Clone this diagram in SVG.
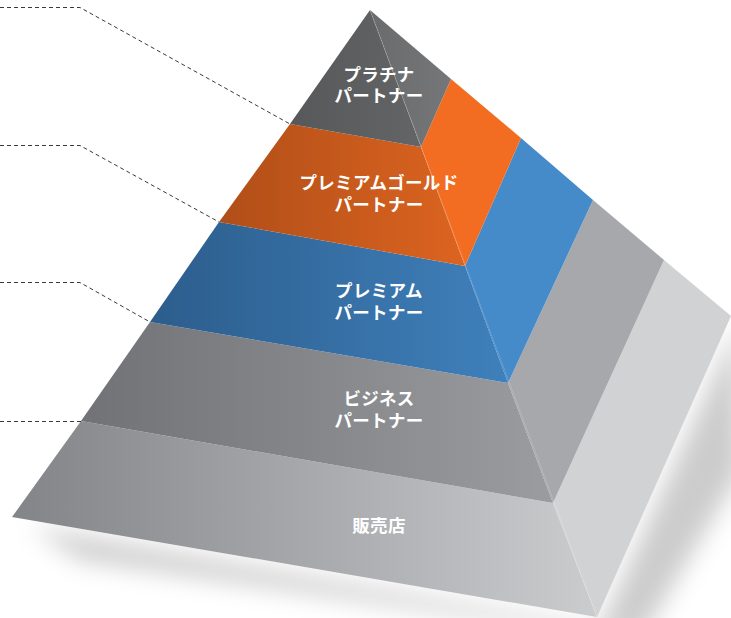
<svg xmlns="http://www.w3.org/2000/svg" width="731" height="618" viewBox="0 0 731 618">
<style>
.lbl{font-family:"Noto Sans CJK JP","Noto Sans",sans-serif;font-weight:bold;font-size:17.5px;letter-spacing:0.3px;fill:#ffffff;text-anchor:middle}
.dash{fill:none;stroke:#3a3a3a;stroke-width:1;stroke-dasharray:4 3}
.ridge{stroke:#ffffff;stroke-opacity:0.25;stroke-width:0.7;fill:none}
</style>
<defs>
<filter id="blur" x="-20%" y="-20%" width="140%" height="140%"><feGaussianBlur stdDeviation="12"/></filter>
<linearGradient id="gPlat" gradientUnits="userSpaceOnUse" x1="290" y1="0" x2="440" y2="0"><stop offset="0" stop-color="#57585a"/><stop offset="1" stop-color="#656668"/></linearGradient>
<linearGradient id="gPlatR" gradientUnits="userSpaceOnUse" x1="370" y1="0" x2="451" y2="0"><stop offset="0" stop-color="#6a6b6d"/><stop offset="1" stop-color="#757678"/></linearGradient>
<linearGradient id="gGold" gradientUnits="userSpaceOnUse" x1="219" y1="0" x2="465" y2="0"><stop offset="0" stop-color="#b04e18"/><stop offset="1" stop-color="#dc6420"/></linearGradient>
<linearGradient id="gBlue" gradientUnits="userSpaceOnUse" x1="150" y1="0" x2="508" y2="0"><stop offset="0" stop-color="#2c5d8c"/><stop offset="1" stop-color="#3f80bb"/></linearGradient>
<linearGradient id="gBiz" gradientUnits="userSpaceOnUse" x1="81" y1="0" x2="553" y2="0"><stop offset="0" stop-color="#717276"/><stop offset="1" stop-color="#9b9ca0"/></linearGradient>
<linearGradient id="gRet" gradientUnits="userSpaceOnUse" x1="12" y1="0" x2="597" y2="0"><stop offset="0" stop-color="#838488"/><stop offset="1" stop-color="#cbccce"/></linearGradient>
</defs>

<g id="shadow">
<polygon points="30,526 600,628 738,322 742,470 640,640 80,560" fill="#000000" fill-opacity="0.2" filter="url(#blur)"/>
</g>

<g id="tier-retail">
<polygon points="81,421 553,503 597,617 12,517" fill="url(#gRet)"/>
<polygon points="553,503 664,260 731,316 597,617" fill="#d1d2d4"/>
<text class="lbl" x="379" y="532">販売店</text>
</g>

<g id="tier-business">
<polygon points="150,322 508,383 553,503 81,421" fill="url(#gBiz)"/>
<polygon points="508,383 593,200 664,260 553,503" fill="#a7a8ab"/>
<text class="lbl" x="379" y="405">ビジネス<tspan x="379" y="427">パートナー</tspan></text>
</g>

<g id="tier-premium">
<polygon points="219,222 465,266 508,383 150,322" fill="url(#gBlue)"/>
<polygon points="465,266 521,138 593,200 508,383" fill="#458ac9"/>
<text class="lbl" x="379" y="297">プレミアム<tspan x="379" y="319">パートナー</tspan></text>
</g>

<g id="tier-gold">
<polygon points="290,124 421,147 465,266 219,222" fill="url(#gGold)"/>
<polygon points="421,147 451,79 521,138 465,266" fill="#f26d21"/>
<text class="lbl" x="379" y="189">プレミアムゴールド<tspan x="379" y="211">パートナー</tspan></text>
</g>

<g id="tier-platinum">
<polygon points="370,10 421,147 290,124" fill="url(#gPlat)"/>
<polygon points="370,10 451,79 421,147" fill="url(#gPlatR)"/>
<text class="lbl" x="379" y="81">プラチナ<tspan x="379" y="102">パートナー</tspan></text>
</g>

<line class="ridge" x1="370" y1="10" x2="597" y2="617"/>

<g id="connectors">
<polyline class="dash" points="0,7.5 80,7.5 290,124"/>
<polyline class="dash" points="0,145.5 80,145.5 219,222"/>
<polyline class="dash" points="0,282.5 80,282.5 150,322"/>
<polyline class="dash" points="0,421.5 81,421.5"/>
</g>
</svg>
